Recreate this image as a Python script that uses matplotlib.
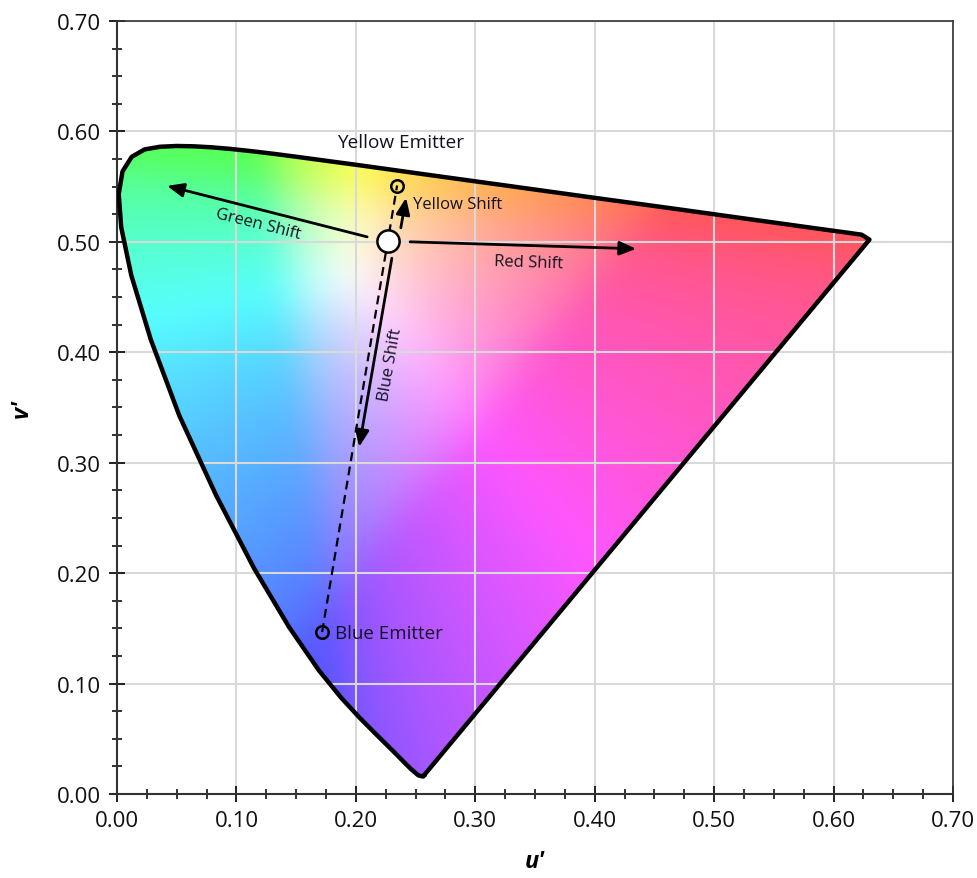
import numpy as np
import matplotlib
matplotlib.use("Agg")
import matplotlib.pyplot as plt
from matplotlib.path import Path
from matplotlib.patches import PathPatch

plt.rcParams['font.family'] = ['Open Sans', 'DejaVu Sans']

# Spectral locus (CIE 1976 u', v'), 380 nm -> 700 nm, plus closing corner
locus_u = [0.2568, 0.2557, 0.2522, 0.2461, 0.2411, 0.2347, 0.2266, 0.2161, 0.2033,
           0.1877, 0.1690, 0.1441, 0.1147, 0.0828, 0.0521, 0.0282, 0.0119, 0.0035,
           0.0014, 0.0046, 0.0123, 0.0231, 0.0360, 0.0501, 0.0643, 0.0792, 0.0953,
           0.1127, 0.1319, 0.1531, 0.2026, 0.2312, 0.2623, 0.3315, 0.4035, 0.4692,
           0.5203, 0.5565, 0.5830, 0.6005, 0.6109, 0.6199, 0.6234, 0.6300]
locus_v = [0.0166, 0.0159, 0.0169, 0.0226, 0.0279, 0.0350, 0.0437, 0.0549, 0.0688,
           0.0871, 0.1119, 0.1510, 0.2044, 0.2708, 0.3427, 0.4117, 0.4698, 0.5131,
           0.5432, 0.5638, 0.5770, 0.5837, 0.5861, 0.5868, 0.5865, 0.5856, 0.5841,
           0.5821, 0.5796, 0.5766, 0.5694, 0.5651, 0.5604, 0.5501, 0.5393, 0.5296,
           0.5219, 0.5165, 0.5125, 0.5099, 0.5084, 0.5070, 0.5065, 0.5020]

white_point = (0.227, 0.501)
yellow_emitter = (0.2345, 0.551)
blue_emitter = (0.1717, 0.1467)

arrow_names = ["Green Shift", "Yellow Shift", "Red Shift", "Blue Shift"]
arrow_tail = [(0.2094, 0.5045), (0.2376, 0.5127), (0.2454, 0.5000), (0.2301, 0.4852)]
arrow_head = [(0.0419, 0.5507), (0.2420, 0.5399), (0.4347, 0.4937), (0.2027, 0.3143)]

x_ticks = [0.0, 0.1, 0.2, 0.3, 0.4, 0.5, 0.6, 0.7]
y_ticks = [0.0, 0.1, 0.2, 0.3, 0.4, 0.5, 0.6, 0.7]

fig = plt.figure(figsize=(9.77, 8.79), dpi=100)
ax = fig.add_axes([0.1198, 0.0956, 0.8557, 0.8794])
ax.set_xlim(0, 0.7)
ax.set_ylim(0, 0.7)

# Chromaticity colour background
n = 500
gu, gv = np.meshgrid(np.linspace(0, 0.7, n), np.linspace(0, 0.7, n))
den = 6 * gu - 16 * gv + 12
cx = 9 * gu / den
cy = np.clip(4 * gv / den, 1e-4, None)
X = cx / cy
Yc = np.ones_like(X)
Z = (1 - cx - cy) / cy
M = np.array([[3.2406, -1.5372, -0.4986],
              [-0.9689, 1.8758, 0.0415],
              [0.0557, -0.2040, 1.0570]])
xyz = np.stack([X, Yc, Z], axis=-1)
rgb = xyz @ M.T
rgb = np.clip(rgb, 0, None)
rgb = rgb / np.maximum(rgb.max(axis=-1, keepdims=True), 1e-9)
rgb = np.where(rgb <= 0.0031308, 12.92 * rgb, 1.055 * rgb ** (1 / 2.4) - 0.055)
rgb = np.clip(rgb, 0, 1)

# soften the colour field (separable gaussian blur)
sig = 10.0
k = np.arange(-3 * int(sig), 3 * int(sig) + 1)
kern = np.exp(-0.5 * (k / sig) ** 2)
kern /= kern.sum()
pad = len(k) // 2
def blur_axis(a, axis):
    a = np.moveaxis(a, axis, 0)
    ap = np.concatenate([np.repeat(a[:1], pad, 0), a, np.repeat(a[-1:], pad, 0)], 0)
    out = np.zeros_like(a)
    for i, w in enumerate(kern):
        out += w * ap[i:i + a.shape[0]]
    return np.moveaxis(out, 0, axis)
rgb = blur_axis(blur_axis(rgb, 0), 1)
rgb = 0.66 * rgb + 0.34
rgb = np.clip(rgb, 0, 1)

im = ax.imshow(rgb, origin='lower', extent=[0, 0.7, 0, 0.7], aspect='auto',
               interpolation='bilinear', zorder=0)
verts = list(zip(locus_u, locus_v)) + [(locus_u[0], locus_v[0])]
path = Path(verts, closed=True)
patch = PathPatch(path, facecolor='none', edgecolor='none', transform=ax.transData)
ax.add_patch(patch)
im.set_clip_path(patch)

# grid & ticks
ax.set_xticks(x_ticks)
ax.set_yticks(y_ticks)
ax.set_xticks(np.arange(0, 0.7001, 0.025), minor=True)
ax.set_yticks(np.arange(0, 0.7001, 0.025), minor=True)
ax.xaxis.set_major_formatter(matplotlib.ticker.FormatStrFormatter('%.2f'))
ax.yaxis.set_major_formatter(matplotlib.ticker.FormatStrFormatter('%.2f'))
ax.grid(True, which='major', color='#d9d9d9', linewidth=1.5, zorder=1.5)
ax.tick_params(which='major', direction='inout', length=11, width=1.3, labelsize=16,
               pad=6, colors='#111111', top=False, right=False)
ax.tick_params(which='minor', direction='inout', length=7, width=1.2,
               top=False, right=False, colors='#111111')
for s in ax.spines.values():
    s.set_color('#333333')
    s.set_linewidth(1.2)
ax.spines['left'].set_linewidth(1.5)
ax.spines['bottom'].set_linewidth(1.5)

# locus outline
ax.plot([p[0] for p in verts], [p[1] for p in verts], color='black',
        linewidth=3.2, solid_joinstyle='round', zorder=3)

# dashed connector
ax.plot([blue_emitter[0], yellow_emitter[0]], [blue_emitter[1], yellow_emitter[1]],
        color='black', linewidth=1.6, linestyle=(0, (4, 2.5)), zorder=4)

# arrows
for t, h in zip(arrow_tail, arrow_head):
    ax.annotate('', xy=h, xytext=t,
                arrowprops=dict(arrowstyle='-|>,head_length=1.0,head_width=0.42',
                                color='black', lw=2, shrinkA=0, shrinkB=0),
                zorder=5)

# markers
ax.plot(*white_point, 'o', markersize=16, markerfacecolor='white',
        markeredgecolor='black', markeredgewidth=1.8, zorder=6)
ax.plot(*yellow_emitter, 'o', markersize=9, markerfacecolor='none',
        markeredgecolor='black', markeredgewidth=1.8, zorder=6)
ax.plot(*blue_emitter, 'o', markersize=9, markerfacecolor='none',
        markeredgecolor='black', markeredgewidth=1.8, zorder=6)

tc = '#111122'
ax.text(0.237, 0.5906, 'Yellow Emitter', ha='center', va='center', fontsize=13.7, color=tc, zorder=7)
ax.text(0.1826, 0.1458, 'Blue Emitter', ha='left', va='center', fontsize=13.5, color=tc, zorder=7)
ax.text(0.1181, 0.5163, 'Green Shift', ha='center', va='center', fontsize=12, color=tc,
        rotation=-14, rotation_mode='anchor', zorder=7)
ax.text(0.2479, 0.5344, 'Yellow Shift', ha='left', va='center', fontsize=12, color=tc, zorder=7)
ax.text(0.345, 0.4819, 'Red Shift', ha='center', va='center', fontsize=12, color=tc,
        rotation=-2, rotation_mode='anchor', zorder=7)
ax.text(0.2286, 0.3895, 'Blue Shift', ha='center', va='center', fontsize=12, color=tc,
        rotation=80, rotation_mode='anchor', zorder=7)

ax.set_xlabel("u'", fontsize=17, fontweight='bold', fontstyle='italic')
ax.set_ylabel("v'", fontsize=17, fontweight='bold', fontstyle='italic')
ax.xaxis.set_label_coords(0.5, -0.071)
ax.yaxis.set_label_coords(-0.10, 0.5)

fig.savefig('out.png', dpi=100)
